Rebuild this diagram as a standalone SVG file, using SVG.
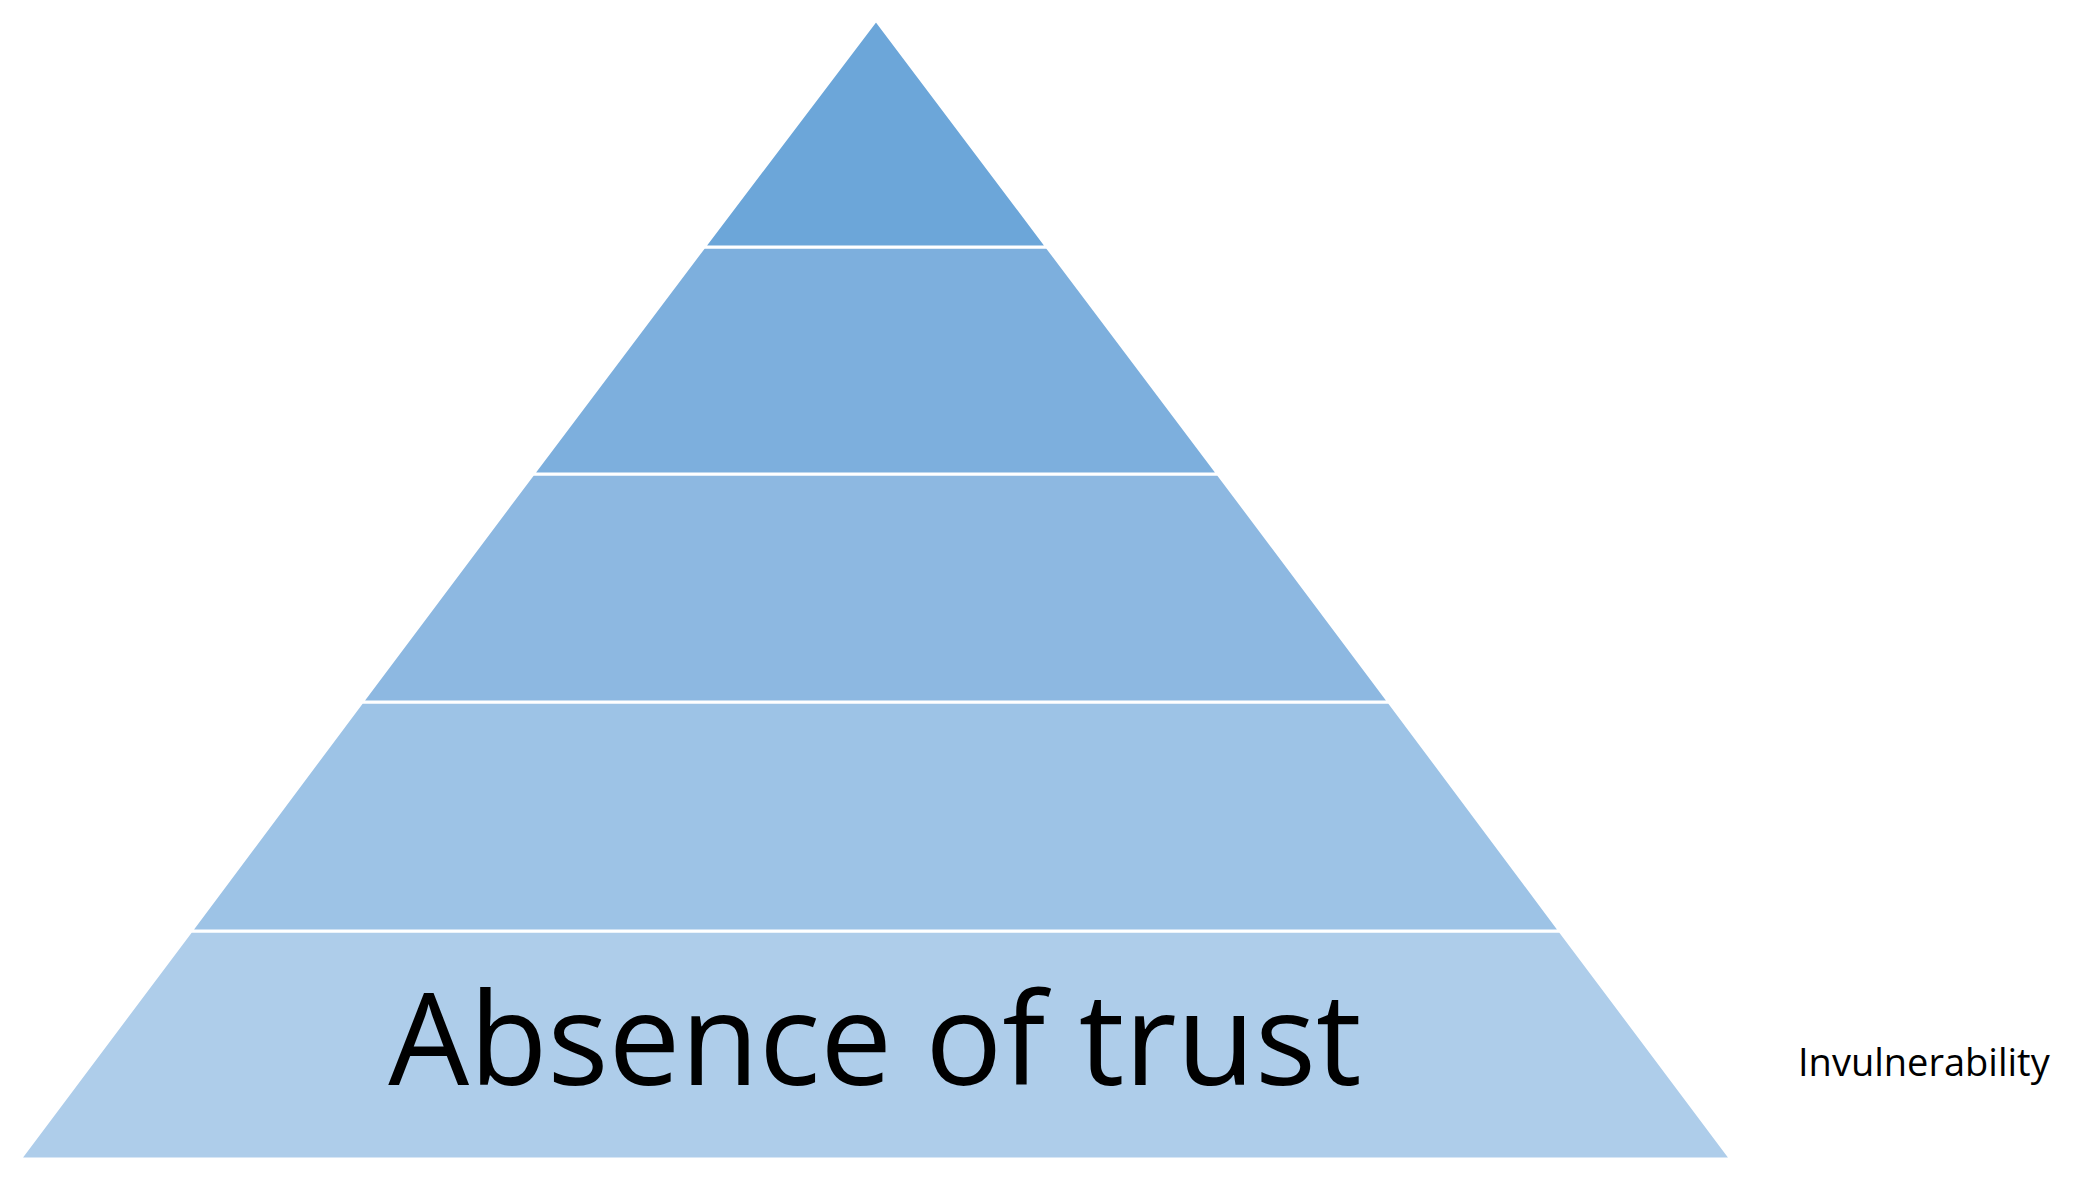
<svg xmlns="http://www.w3.org/2000/svg" width="2095" height="1189" viewBox="0 0 2095 1189">
<style>.b{stroke:#fff;stroke-width:3}.t{font-family:"Open Sans","Liberation Sans",sans-serif;fill:#000}</style>
<rect width="2095" height="1189" fill="#fff"/>
<g id="level5"><polygon class="b" points="191,931 1560,931 1731,1159 20,1159" fill="#AECDEA"/>
<text class="t" x="875" y="1085" font-size="128" text-anchor="middle">Absence of trust</text></g>
<g id="level4"><polygon class="b" points="362,702 1389,702 1560,931 191,931" fill="#9DC3E6"/></g>
<g id="level3"><polygon class="b" points="533,474 1218,474 1389,702 362,702" fill="#8DB8E1"/></g>
<g id="level2"><polygon class="b" points="704,247 1047,247 1218,474 533,474" fill="#7DAFDD"/></g>
<g id="level1"><polygon class="b" points="876,20 1047,247 704,247" fill="#6CA6D9"/></g>
<g id="label"><text class="t" x="1798" y="1076" font-size="38">Invulnerability</text></g>
<g id="connectors"/>
</svg>
